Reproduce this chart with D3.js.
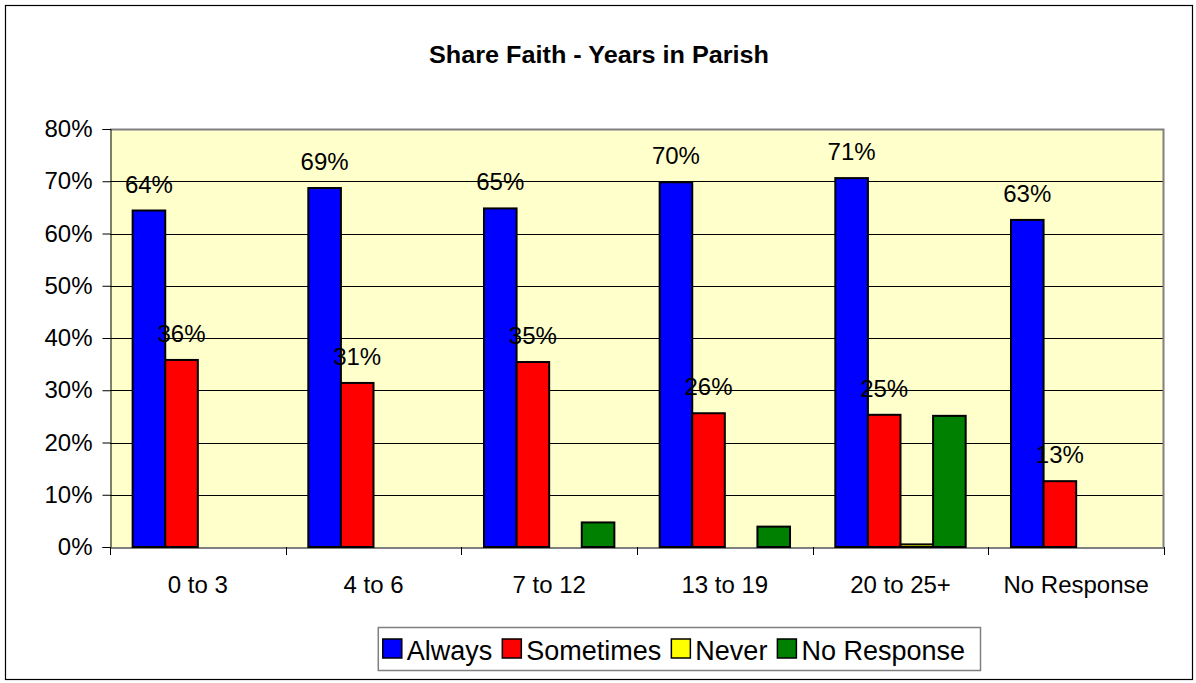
<!DOCTYPE html>
<html>
<head>
<meta charset="utf-8">
<script src="https://cdn.jsdelivr.net/npm/d3@7"></script>
<style>
  html, body { margin: 0; padding: 0; background: #fff; }
  svg { display: block; font-family: Arial, "Liberation Sans", sans-serif; }
</style>
</head>
<body>
<svg id="chart" width="1196" height="683"></svg>
<script>
const categories = ["0 to 3", "4 to 6", "7 to 12", "13 to 19", "20 to 25+", "No Response"];
const seriesNames = ["Always", "Sometimes", "Never", "No Response"];
const seriesColors = ["#0000FF", "#FF0000", "#FFFF00", "#008000"];
const always     = [64.4, 68.7, 64.8, 69.8, 70.6, 62.6];
const sometimes  = [35.8, 31.4, 35.4, 25.6, 25.3, 12.6];
const never      = [0, 0, 0, 0, 0.5, 0];
const noResponse = [0, 0, 4.7, 3.9, 25.1, 0];
const yTicks = [0, 10, 20, 30, 40, 50, 60, 70, 80];
const labelledSeries = ["Always", "Sometimes"];

const seriesValues = [always, sometimes, never, noResponse];
const svg = d3.select("#chart");

const plot = { left: 110, right: 1164, top: 129, bottom: 547 };

// outer border
svg.append("rect").attr("x", 5.5).attr("y", 5.5).attr("width", 1187).attr("height", 674)
  .attr("fill", "#fff").attr("stroke", "#000").attr("stroke-width", 1.2);

// title
svg.append("text").attr("x", 599).attr("y", 63).attr("text-anchor", "middle")
  .attr("font-weight", "bold").attr("font-size", 23)
  .attr("textLength", 340).attr("lengthAdjust", "spacingAndGlyphs")
  .text("Share Faith - Years in Parish");

const x = d3.scaleBand().domain(categories).range([plot.left, plot.right]).padding(0);
const xs = d3.scaleBand().domain(seriesNames).range([0, x.bandwidth()]).paddingInner(0).paddingOuter(0.695);
const y = d3.scaleLinear().domain([0, 80]).range([plot.bottom, plot.top]);

// plot background
svg.append("rect").attr("x", plot.left).attr("y", plot.top)
  .attr("width", plot.right - plot.left).attr("height", plot.bottom - plot.top)
  .attr("fill", "#FFFFCC");

// gridlines
svg.append("g").selectAll("line").data(yTicks.filter(t => t > 0 && t < 80)).join("line")
  .attr("x1", plot.left).attr("x2", plot.right)
  .attr("y1", d => Math.round(y(d)) + 0.5).attr("y2", d => Math.round(y(d)) + 0.5)
  .attr("stroke", "#000").attr("stroke-width", 1);

// plot border top/right gray
svg.append("path")
  .attr("d", `M${plot.left},${plot.top + 0.5}H${plot.right - 0.5}V${plot.bottom}`)
  .attr("fill", "none").attr("stroke", "#808080").attr("stroke-width", 2);

// y axis
const yAxis = d3.axisLeft(y).tickValues(yTicks).tickSize(8).tickPadding(10).tickFormat(d => d + "%");
const gy = svg.append("g").attr("transform", `translate(${plot.left + 0.5},0)`).call(yAxis);
gy.selectAll("path.domain").attr("stroke", "#000");
gy.selectAll(".tick line").attr("stroke", "#000");
gy.selectAll(".tick text").attr("font-size", 24).attr("font-family", "Arial, 'Liberation Sans', sans-serif").attr("fill", "#000");

// x axis
const xAxis = d3.axisBottom(x).tickSize(0).tickPadding(28);
const gx = svg.append("g").attr("transform", `translate(0,${plot.bottom + 0.5})`).call(xAxis);
gx.selectAll("path.domain").attr("stroke", "#000");
gx.selectAll(".tick text").attr("font-size", 24).attr("font-family", "Arial, 'Liberation Sans', sans-serif").attr("fill", "#000");
// category boundary ticks
const bounds = categories.map(c => x(c)).concat([x(categories[categories.length - 1]) + x.bandwidth()]);
svg.append("g").selectAll("line").data(bounds).join("line")
  .attr("x1", d => Math.round(d) + 0.5).attr("x2", d => Math.round(d) + 0.5)
  .attr("y1", plot.bottom).attr("y2", plot.bottom + 8)
  .attr("stroke", "#000");

// bars
const barData = [];
seriesNames.forEach((s, si) => {
  categories.forEach((c, ci) => {
    barData.push({ series: s, si, cat: c, value: seriesValues[si][ci] });
  });
});
svg.append("g").selectAll("rect").data(barData.filter(d => d.value > 0)).join("rect")
  .attr("x", d => x(d.cat) + xs(d.series))
  .attr("y", d => y(d.value))
  .attr("width", xs.bandwidth())
  .attr("height", d => y(0) - y(d.value))
  .attr("fill", d => seriesColors[d.si])
  .attr("stroke", "#000").attr("stroke-width", 2);

// data labels
svg.append("g").selectAll("text")
  .data(barData.filter(d => labelledSeries.includes(d.series) && d.value > 0)).join("text")
  .attr("x", d => x(d.cat) + xs(d.series) + xs.bandwidth() / 2)
  .attr("y", d => y(d.value) - 18)
  .attr("text-anchor", "middle").attr("font-size", 24)
  .text(d => Math.round(d.value) + "%");

// legend
const legend = svg.append("g");
const lgFont = 27, sq = 19, boxRight = 980, boxTop = 627, boxBottom = 670;
const textGap = 5, itemGap = 10, padL = 4, padR = 16;
const items = legend.selectAll("g").data(seriesNames).join("g");
items.append("rect").attr("width", sq).attr("height", sq).attr("y", 639)
  .attr("fill", (d, i) => seriesColors[i]).attr("stroke", "#000").attr("stroke-width", 1.5);
items.append("text").attr("y", 660).attr("font-size", lgFont).text(d => d);
let cx = 0;
items.each(function () {
  const t = d3.select(this).select("text");
  const w = t.node().getComputedTextLength();
  d3.select(this).select("rect").attr("x", cx);
  t.attr("x", cx + sq + textGap);
  cx += sq + textGap + w + itemGap;
});
const contentW = cx - itemGap;
const boxLeft = boxRight - contentW - padL - padR;
items.attr("transform", `translate(${boxLeft + padL + 1},0)`);
legend.insert("rect", ":first-child").attr("x", boxLeft + 0.5).attr("y", boxTop + 0.5)
  .attr("width", boxRight - boxLeft).attr("height", boxBottom - boxTop)
  .attr("fill", "#fff").attr("stroke", "#808080").attr("stroke-width", 1.5);
</script>
</body>
</html>
